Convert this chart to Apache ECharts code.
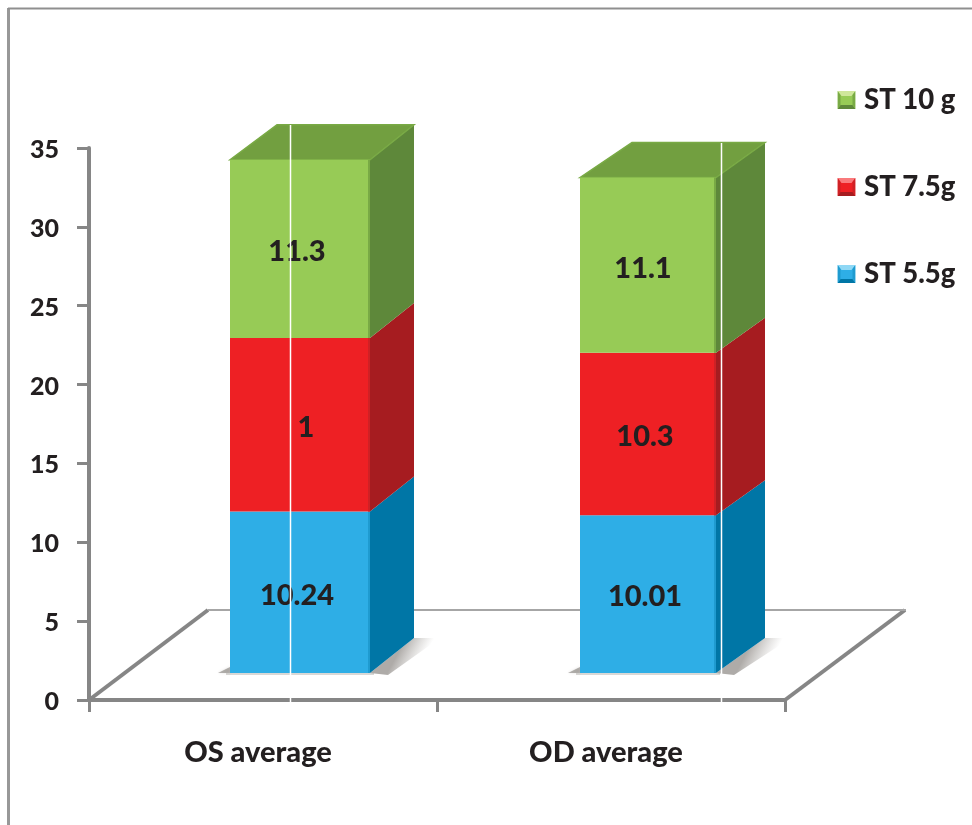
<!DOCTYPE html>
<html>
<head>
<meta charset="utf-8">
<style>
  html, body { margin: 0; padding: 0; background: #fff; }
  #chart { width: 972px; height: 825px; }
</style>
<script src="https://cdn.jsdelivr.net/npm/echarts@6/dist/echarts.min.js"></script>
</head>
<body>
<div id="chart"></div>
<script>
// Stacked averages per eye, by ST dose
const categories = ['OS average', 'OD average'];
const st55 = [10.24, 10.01];
const st75 = [11, 10.3];
const st10 = [11.3, 11.1];

// Text printed on each segment (the red OS segment is printed as "1")
const st55Labels = ['10.24', '10.01'];
const st75Labels = ['1', '10.3'];
const st10Labels = ['11.3', '11.1'];

const yTicks = { min: 0, max: 35, step: 5 };

// Box geometry, in pixels, relative to each category's band centre
const boxes = [
  { offset: -33, width: 140, depth: 44, rise: 35 },
  { offset: -31, width: 136, depth: 49, rise: 35 }
];
const floorLift = 27;
const floorDepth = { x: 119, y: 90 };
const inkColor = '#231f20';
const axisColor = '#868686';
const fontFamily = 'Lato, Carlito, sans-serif';
const heavy = 900;

const palette = {
  blue:  { front: '#2eaee6', side: '#0076a6', top: '#0d86b8', edge: '#1f9bd0', bevelLight: '#8fd8f5' },
  red:   { front: '#ee2024', side: '#a61c20', top: '#b81e22', edge: '#cf2125', bevelLight: '#f97a7c' },
  green: { front: '#97cb56', side: '#5e883a', top: '#729f40', edge: '#79aa45', bevelLight: '#cfe79b' }
};

// Square pyramid-style swatch used in the legend
function swatch(c) {
  const svg = '<svg xmlns="http://www.w3.org/2000/svg" width="18" height="18" viewBox="0 0 18 18">' +
    '<rect width="18" height="18" fill="' + c.front + '"/>' +
    '<polygon points="0,0 18,0 14,5 4,5" fill="' + c.bevelLight + '"/>' +
    '<polygon points="0,18 18,18 15,14 3,14" fill="' + c.side + '"/>' +
    '<polygon points="0,0 3,4 3,14 0,18" fill="' + c.edge + '"/>' +
    '<polygon points="18,0 15,4 15,14 18,18" fill="' + c.edge + '"/>' +
    '</svg>';
  return 'image://data:image/svg+xml;charset=utf-8,' + encodeURIComponent(svg);
}

// Fades from the box edge out across the floor
const floorShadow = {
  type: 'linear',
  x: 0.4, y: 0.4, x2: 0.72, y2: 0.72,
  colorStops: [
    { offset: 0, color: 'rgba(120,115,110,0.6)' },
    { offset: 1, color: 'rgba(150,145,140,0)' }
  ]
};

// Draws one stacked segment as a box with front, side and optional top faces
function boxSegment(colors, labels, labelShift, isTop, isBase) {
  return function (params, api) {
    const cat = api.value(0);
    const box = boxes[cat];
    const center = api.coord([cat, 0])[0];
    const left = center + box.offset;
    const right = left + box.width;
    const yLow = api.coord([cat, api.value(1)])[1] - floorLift;
    const yHigh = api.coord([cat, api.value(2)])[1] - floorLift;
    const d = box.depth, r = box.rise;
    const children = [];

    if (isBase) {
      // Soft contact shadows on the floor
      children.push({
        type: 'polygon',
        shape: { points: [[right, yLow], [right + d, yLow - r], [right + d + 26, yLow - r], [right + 18, yLow + 2]] },
        style: { fill: floorShadow }
      });
      children.push({
        type: 'polygon',
        shape: { points: [[left, yLow - 6], [left, yLow], [left - 12, yLow]] },
        style: { fill: 'rgba(110,105,100,0.5)', shadowBlur: 3, shadowColor: 'rgba(110,105,100,0.4)' }
      });
      children.push({
        type: 'rect',
        shape: { x: left - 4, y: yLow, width: box.width + 8, height: 2 },
        style: { fill: 'rgba(130,125,120,0.3)' }
      });
    }

    children.push({
      type: 'polygon',
      shape: { points: [[right, yLow], [right + d, yLow - r], [right + d, yHigh - r], [right, yHigh]] },
      style: { fill: colors.side }
    });
    if (isTop) {
      children.push({
        type: 'polygon',
        shape: { points: [[left, yHigh], [left + d + 3, yHigh - r], [right + d, yHigh - r], [right, yHigh]] },
        style: { fill: colors.top, stroke: colors.edge, lineWidth: 1.5 }
      });
    }
    children.push({
      type: 'rect',
      shape: { x: left, y: yHigh, width: box.width, height: yLow - yHigh },
      style: { fill: colors.front }
    });
    children.push({
      type: 'rect',
      shape: { x: right - 2, y: yHigh, width: 2, height: yLow - yHigh },
      style: { fill: colors.edge }
    });
    children.push({
      type: 'text',
      x: left + box.width / 2 + labelShift[cat],
      y: (yLow + yHigh) / 2 + 3,
      style: {
        text: labels[cat],
        fill: inkColor,
        font: heavy + ' 29px ' + fontFamily,
        align: 'center',
        verticalAlign: 'middle'
      }
    });
    return { type: 'group', children: children };
  };
}

// Floor outline running back from the category axis
function floorOutline(params, api) {
  const bandStart = api.coord([0, 0]);
  const bandEnd = api.coord([1, 0]);
  const band = api.size([1, 0])[0];
  const x0 = bandStart[0] - band / 2;
  const x1 = bandEnd[0] + band / 2;
  const y = bandStart[1];
  const backY = y - floorDepth.y;
  const stroke = { stroke: axisColor, lineWidth: 4 };
  const thin = { stroke: '#a6a6a6', lineWidth: 2 };
  return {
    type: 'group',
    children: [
      { type: 'line', shape: { x1: x0, y1: y, x2: x0 + floorDepth.x, y2: backY }, style: stroke },
      { type: 'line', shape: { x1: x1, y1: y, x2: x1 + floorDepth.x + 1, y2: backY }, style: stroke },
      { type: 'line', shape: { x1: x0 + floorDepth.x, y1: backY, x2: x1 + floorDepth.x + 2, y2: backY }, style: thin }
    ]
  };
}

// Turns a value list into [category, low, high] rows on top of what lies below it
function stacked(values, below) {
  return values.map((v, i) => {
    const low = below.reduce((sum, s) => sum + s[i], 0);
    return [i, low, low + v];
  });
}

const chart = echarts.init(document.getElementById('chart'));

chart.setOption({
  animation: false,
  backgroundColor: '#ffffff',
  grid: { left: 89, top: 148, width: 696, height: 552, containLabel: false },
  xAxis: {
    type: 'category',
    data: categories,
    axisLine: { show: true, lineStyle: { color: axisColor, width: 4 } },
    axisTick: { show: true, alignWithLabel: false, length: 12, lineStyle: { color: axisColor, width: 3 } },
    axisLabel: {
      margin: 38,
      color: inkColor,
      fontFamily: fontFamily,
      fontWeight: heavy,
      fontSize: 29,
      padding: [0, 10, 0, 0]
    }
  },
  yAxis: {
    type: 'value',
    min: yTicks.min,
    max: yTicks.max,
    interval: yTicks.step,
    splitLine: { show: false },
    axisLine: { show: true, lineStyle: { color: axisColor, width: 4 } },
    axisTick: { show: true, length: 12, lineStyle: { color: axisColor, width: 3 } },
    axisLabel: {
      margin: 30,
      color: inkColor,
      fontFamily: fontFamily,
      fontWeight: heavy,
      fontSize: 25,
      verticalAlign: 'top',
      lineHeight: 4
    }
  },
  legend: {
    left: 837,
    top: 86,
    orient: 'vertical',
    selectedMode: false,
    itemWidth: 19,
    itemHeight: 18,
    itemGap: 59,
    padding: 0,
    textStyle: {
      color: inkColor,
      fontFamily: fontFamily,
      fontWeight: heavy,
      fontSize: 27.5,
      padding: [0, 0, 0, 3]
    },
    data: [
      { name: 'ST 10 g', icon: swatch(palette.green) },
      { name: 'ST 7.5g', icon: swatch(palette.red) },
      { name: 'ST 5.5g', icon: swatch(palette.blue) }
    ]
  },
  series: [
    {
      type: 'custom',
      name: 'floor',
      silent: true,
      z: 1,
      data: [[0, 0]],
      encode: { x: 0, y: 1 },
      renderItem: floorOutline
    },
    {
      type: 'custom',
      name: 'ST 5.5g',
      z: 3,
      itemStyle: { color: palette.blue.front },
      data: stacked(st55, []),
      encode: { x: 0, y: [1, 2] },
      renderItem: boxSegment(palette.blue, st55Labels, [-3, -3], false, true)
    },
    {
      type: 'custom',
      name: 'ST 7.5g',
      z: 3,
      itemStyle: { color: palette.red.front },
      data: stacked(st75, [st55]),
      encode: { x: 0, y: [1, 2] },
      renderItem: boxSegment(palette.red, st75Labels, [6, -3], false, false)
    },
    {
      type: 'custom',
      name: 'ST 10 g',
      z: 3,
      itemStyle: { color: palette.green.front },
      data: stacked(st10, [st55, st75]),
      encode: { x: 0, y: [1, 2] },
      renderItem: boxSegment(palette.green, st10Labels, [-3, -5], true, false)
    }
  ],
  graphic: {
    elements: [
      // Page frame along the left and top edges
      { type: 'line', z: 20, silent: true, shape: { x1: 8.5, y1: 8, x2: 8.5, y2: 825 }, style: { stroke: '#989898', lineWidth: 3 } },
      { type: 'line', z: 20, silent: true, shape: { x1: 8, y1: 8.5, x2: 972, y2: 8.5 }, style: { stroke: '#8f8f8f', lineWidth: 2 } },
      // Thin white rules crossing the plot
      { type: 'line', z: 20, silent: true, shape: { x1: 290.5, y1: 125, x2: 290.5, y2: 705 }, style: { stroke: '#ffffff', lineWidth: 1.5 } },
      { type: 'line', z: 20, silent: true, shape: { x1: 721.5, y1: 143, x2: 721.5, y2: 705 }, style: { stroke: '#ffffff', lineWidth: 1.5 } }
    ]
  }
});
</script>
</body>
</html>
